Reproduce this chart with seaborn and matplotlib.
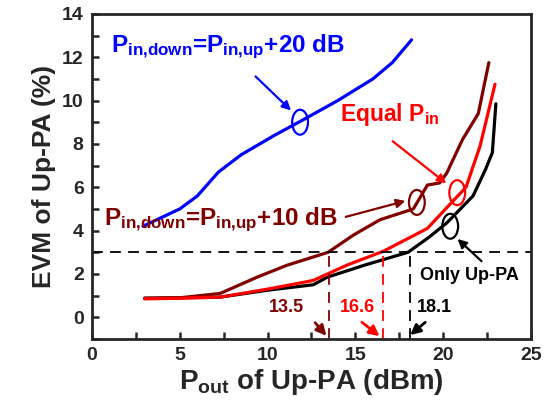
import matplotlib
matplotlib.use('Agg')
import matplotlib.pyplot as plt
from matplotlib.patches import Ellipse
import seaborn as sns
import pandas as pd

# data
pout_20db = [2.9, 5.0, 6.0, 7.2, 8.5, 10.4, 12.0, 14.0, 16.0, 17.1, 18.2]
evm_20db = [4.2, 5.0, 5.6, 6.7, 7.5, 8.4, 9.1, 10.0, 11.0, 11.75, 12.8]

pout_10db = [3.0, 5.0, 7.3, 9.4, 11.1, 13.45, 14.9, 16.4, 18.3, 19.1, 19.8, 20.2, 21.1, 22.0, 22.6]
evm_10db = [0.88, 0.9, 1.1, 1.85, 2.4, 3.0, 3.8, 4.5, 5.0, 6.1, 6.2, 6.65, 8.2, 9.4, 11.75]

pout_equal = [3.0, 5.0, 7.3, 10.0, 12.6, 14.5, 16.6, 19.1, 20.6, 21.3, 22.1, 22.95]
evm_equal = [0.85, 0.88, 0.93, 1.3, 1.7, 2.4, 3.05, 4.1, 5.4, 6.0, 7.9, 10.75]

pout_only = [3.0, 5.0, 7.3, 10.0, 12.6, 13.4, 15.5, 18.0, 19.2, 20.2, 21.7, 22.4, 22.8, 23.0]
evm_only = [0.88, 0.9, 0.93, 1.25, 1.5, 1.85, 2.4, 3.0, 3.7, 4.35, 5.6, 6.8, 7.6, 9.85]

thresholds = [13.5, 16.6, 18.1]
threshold_labels = ['13.5', '16.6', '18.1']
evm_limit = 3

blue, dred, red, black = '#0000ff', '#800000', '#ff0000', '#000000'

df = pd.concat([
    pd.DataFrame({'pout': pout_20db, 'evm': evm_20db, 'case': '+20 dB'}),
    pd.DataFrame({'pout': pout_10db, 'evm': evm_10db, 'case': '+10 dB'}),
    pd.DataFrame({'pout': pout_equal, 'evm': evm_equal, 'case': 'Equal'}),
    pd.DataFrame({'pout': pout_only, 'evm': evm_only, 'case': 'Only'}),
])

sns.set_style('ticks')
plt.rcParams['font.family'] = ['Liberation Sans', 'DejaVu Sans']
plt.rcParams['font.weight'] = 'bold'
plt.rcParams['mathtext.fontset'] = 'custom'
plt.rcParams['mathtext.rm'] = 'Liberation Sans:bold'
plt.rcParams['mathtext.bf'] = 'Liberation Sans:bold'
plt.rcParams['mathtext.it'] = 'Liberation Sans:bold'

fig = plt.figure(figsize=(5.46, 4.19), dpi=100)
ax = fig.add_axes([0.1685, 0.191, 0.804, 0.776])

sns.lineplot(data=df, x='pout', y='evm', hue='case', sort=False,
             palette={'+20 dB': blue, '+10 dB': dred, 'Equal': red, 'Only': black},
             hue_order=['+20 dB', 'Only', '+10 dB', 'Equal'],
             linewidth=2.3, legend=False, ax=ax)

ax.axhline(evm_limit, color='black', ls='--', lw=1.3, dashes=(6, 4))
for xv, c in zip(thresholds, [dred, red, black]):
    ax.plot([xv, xv], [-1, evm_limit], color=c, ls='--', lw=1.3, dashes=(6, 4))

ax.set_xlim(0, 25)
ax.set_ylim(-1, 14)
ax.set_xticks([0, 5, 10, 15, 20, 25])
ax.set_xticks([2.5, 7.5, 12.5, 17.5, 22.5], minor=True)
ax.set_yticks([0, 2, 4, 6, 8, 10, 12, 14])
ax.set_yticks([-1, 1, 3, 5, 7, 9, 11, 13], minor=True)
ax.tick_params(which='both', direction='in', length=5, width=1.8, labelsize=14, pad=6)
for s in ax.spines.values():
    s.set_linewidth(2)

ax.set_xlabel(r'P$_{\mathrm{out}}$ of Up-PA (dBm)', fontsize=20, fontweight='bold', labelpad=2)
ax.set_ylabel('EVM of Up-PA (%)', fontsize=19, fontweight='bold', labelpad=4)

# ellipses marking each curve
for (cx, cy), c in zip([(11.85, 9.0), (18.5, 5.3), (20.8, 5.75), (20.4, 4.2)], [blue, dred, red, black]):
    ax.add_patch(Ellipse((cx, cy), 0.9, 1.15, fill=False, edgecolor=c, lw=1.6))

arrow = dict(arrowstyle='-|>', lw=1.6, mutation_scale=13)
ax.annotate('', xy=(11.45, 9.45), xytext=(9.2, 11.2), arrowprops=dict(arrow, color=blue))
ax.annotate('', xy=(20.3, 6.1), xytext=(17.0, 8.2), arrowprops=dict(arrow, color=red))
ax.annotate('', xy=(18.0, 5.4), xytext=(14.3, 4.6), arrowprops=dict(arrow, color=dred))
ax.annotate('', xy=(20.7, 3.7), xytext=(22.3, 2.5), arrowprops=dict(arrow, color=black))
bottom = dict(arrowstyle='-|>', lw=2, mutation_scale=15)
ax.annotate('', xy=(13.45, -0.95), xytext=(12.6, -0.15), arrowprops=dict(bottom, color=dred))
ax.annotate('', xy=(16.5, -0.95), xytext=(15.25, -0.15), arrowprops=dict(bottom, color=red))
ax.annotate('', xy=(18.0, -0.9), xytext=(19.1, -0.15), arrowprops=dict(bottom, color=black))

ax.text(1.1, 12.5, r'P$_{\mathrm{in{,}down}}$=P$_{\mathrm{in{,}up}}$+20 dB', color=blue,
        fontsize=17.5, fontweight='bold', va='center')
ax.text(0.7, 4.5, r'P$_{\mathrm{in{,}down}}$=P$_{\mathrm{in{,}up}}$+10 dB', color=dred,
        fontsize=17.5, fontweight='bold', va='center')
ax.text(14.1, 9.35, r'Equal P$_{\mathrm{in}}$', color=red, fontsize=16.5, fontweight='bold', va='center')
ax.text(21.5, 1.95, 'Only Up-PA', color=black, fontsize=13, fontweight='bold', ha='center', va='center')
for xv, lab, c in zip([11.1, 15.1, 19.5], threshold_labels, [dred, red, black]):
    ax.text(xv, 0.45, lab, color=c, fontsize=13, fontweight='bold', ha='center', va='center')

fig.savefig('out.png', dpi=100)
